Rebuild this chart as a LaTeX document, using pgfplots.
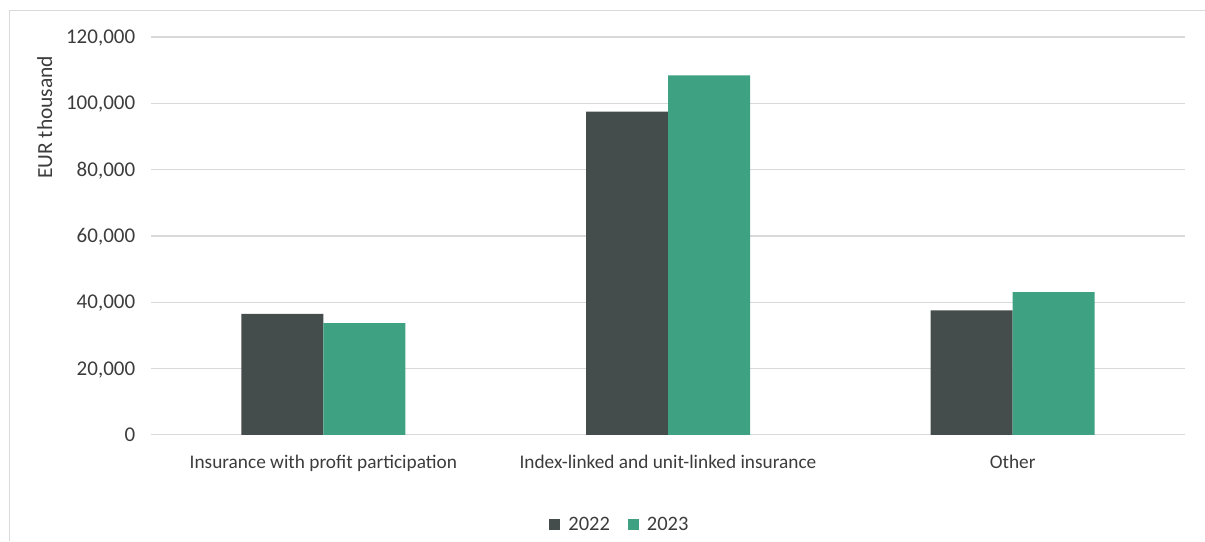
\documentclass[border=0pt]{standalone}
\usepackage{fontspec}
\setmainfont{Carlito}
\usepackage{pgfplots}
\pgfplotsset{compat=1.18}
\definecolor{c22}{RGB}{69,77,76}
\definecolor{c23}{RGB}{61,161,130}
\definecolor{gridc}{RGB}{217,217,217}
\definecolor{txt}{RGB}{60,60,60}
\begin{document}
\begin{tikzpicture}
\path[use as bounding box] (-151pt,-106.2pt) rectangle (1054pt,434.8pt);
\begin{axis}[
  scale only axis, width=1034pt, height=397.8pt,
  xmin=-0.5, xmax=2.5, ymin=0, ymax=120000,
  ybar=0pt, bar width=82pt,
  xtick={0,1,2},
  xticklabels={Insurance with profit participation, Index-linked and unit-linked insurance, Other},
  ytick={0,20000,40000,60000,80000,100000,120000},
  ymajorgrids, grid style={gridc, line width=1.3pt},
  axis line style={draw=none},
  major tick length=0pt,
  scaled y ticks=false,
  /pgf/number format/assume math mode=true,
  yticklabel style={font=\fontsize{21}{25}\selectfont, text=txt, anchor=base east, xshift=-12.3pt, yshift=-6.7pt,
    /pgf/number format/fixed, /pgf/number format/1000 sep={,}},
  xticklabel style={font=\fontsize{19.3}{23}\selectfont, text=txt, anchor=base, yshift=-33.5pt},
  ylabel={EUR thousand},
  ylabel style={at={(axis description cs:-0.0955,0.798)}, anchor=base, font=\fontsize{21.5}{25}\selectfont, text=txt},
  legend style={at={(axis description cs:0.4535,-0.225)}, anchor=center, draw=none, fill=none,
    legend columns=2, font=\fontsize{20.5}{24}\selectfont, text=txt,
    /tikz/every odd column/.append style={column sep=6pt},
    /tikz/every even column/.append style={column sep=16pt}},
  legend image code/.code={\fill[#1] (0pt,-5.5pt) rectangle (11pt,5.5pt);},
]
\addplot[fill=c22, draw=none] coordinates {(0,36470) (1,97470) (2,37500)};
\addplot[fill=c23, draw=none] coordinates {(0,33670) (1,108440) (2,43010)};
\legend{2022,2023}
\end{axis}
\draw[gridc, line width=1pt] (-141pt,-106.2pt) -- (-141pt,424.3pt) -- (1054pt,424.3pt);
\end{tikzpicture}
\end{document}
